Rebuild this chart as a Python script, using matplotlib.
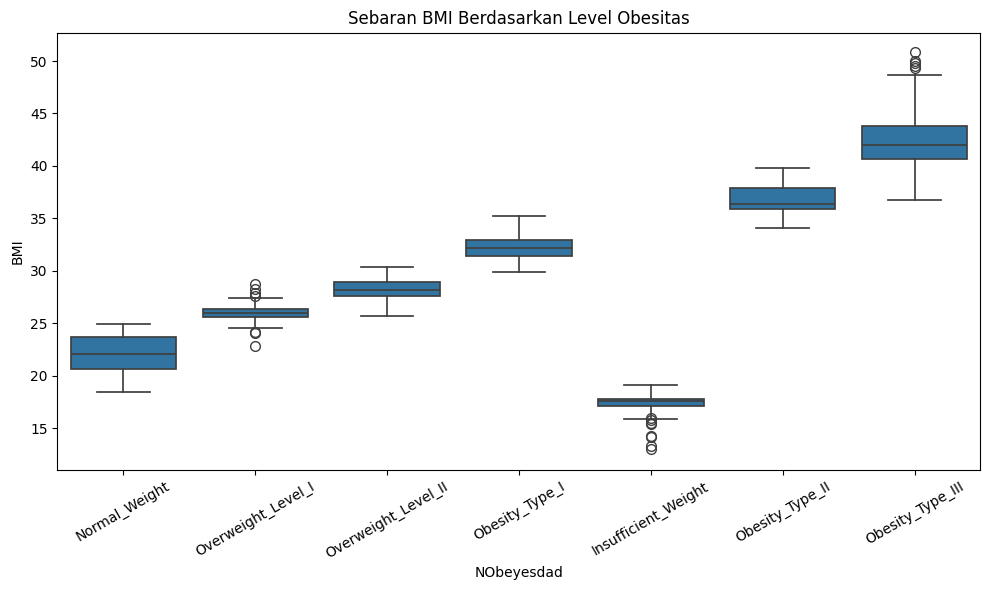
import matplotlib.pyplot as plt

categories = ['Normal_Weight', 'Overweight_Level_I', 'Overweight_Level_II', 'Obesity_Type_I',
              'Insufficient_Weight', 'Obesity_Type_II', 'Obesity_Type_III']
# summary stats
whislo = [18.4, 24.5, 25.7, 29.9, 15.83, 34.1, 36.7]
q1 = [20.6, 25.6, 27.6, 31.4, 17.1, 35.85, 40.67]
med = [22.1, 25.97, 28.15, 32.2, 17.55, 36.4, 41.97]
q3 = [23.7, 26.35, 28.9, 32.95, 17.8, 37.9, 43.85]
whishi = [24.9, 27.4, 30.4, 35.2, 19.07, 39.8, 48.7]
fliers = [
    [],
    [28.75, 28.3, 27.9, 27.6, 24.2, 24.1, 22.8],
    [],
    [],
    [16.0, 15.76, 15.5, 15.4, 14.24, 14.1, 13.3, 12.97],
    [],
    [50.9, 50.05, 49.8, 49.5, 49.3],
]

stats = []
for i, name in enumerate(categories):
    stats.append(dict(label=name, whislo=whislo[i], q1=q1[i], med=med[i],
                      q3=q3[i], whishi=whishi[i], fliers=fliers[i]))

line_col = '#3f3f3f'
fig, ax = plt.subplots(figsize=(9.89, 5.9), dpi=100)
ax.bxp(stats, positions=range(len(categories)), widths=0.8, capwidths=0.4,
       patch_artist=True,
       boxprops=dict(facecolor='#3274a1', edgecolor=line_col, linewidth=1.25),
       medianprops=dict(color=line_col, linewidth=1.25),
       whiskerprops=dict(color=line_col, linewidth=1.25),
       capprops=dict(color=line_col, linewidth=1.25),
       flierprops=dict(marker='o', markerfacecolor='none', markeredgecolor=line_col,
                       markersize=7, linewidth=0))
ax.set_xlim(-0.5, len(categories) - 0.5)
ax.set_ylim(11.04, 52.72)
ax.set_xticks(range(len(categories)))
ax.set_xticklabels(categories, rotation=30)
ax.set_title('Sebaran BMI Berdasarkan Level Obesitas')
ax.set_xlabel('NObeyesdad')
ax.set_ylabel('BMI')
plt.subplots_adjust(left=0.0581, right=0.9914, top=0.9449, bottom=0.2042)
plt.savefig('out.png')
